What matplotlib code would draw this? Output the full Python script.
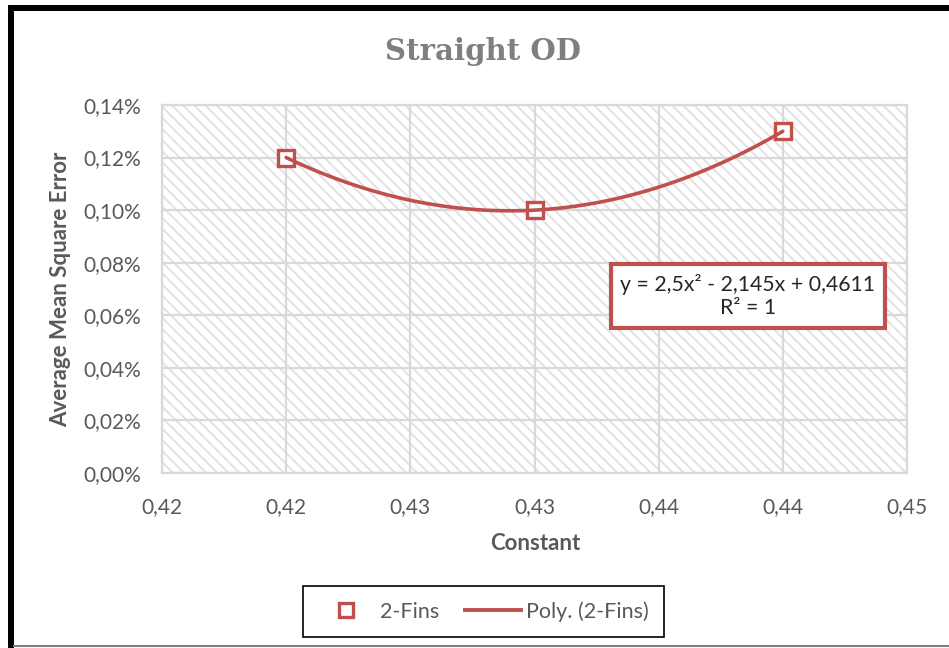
import numpy as np
import matplotlib
matplotlib.use("Agg")
import matplotlib.pyplot as plt
from matplotlib.lines import Line2D
from matplotlib.patches import Rectangle
from matplotlib.ticker import FuncFormatter

# Data
constant = [0.42, 0.43, 0.44]
mse_2fins = [0.0012, 0.0010, 0.0013]
x_tick_values = [0.415, 0.42, 0.425, 0.43, 0.435, 0.44, 0.445]
x_tick_labels = ["0,42", "0,42", "0,43", "0,43", "0,44", "0,44", "0,45"]
y_tick_values = [0.0, 0.0002, 0.0004, 0.0006, 0.0008, 0.0010, 0.0012, 0.0014]

RED = "#c0504d"
GRID = "#d9d9d9"
HATCH = "#e0e0e0"
TXT = "#595959"
FONT = "Lato"

plt.rcParams["hatch.linewidth"] = 1.3
plt.rcParams["hatch.color"] = HATCH

W, H = 949, 648
fig = plt.figure(figsize=(W / 100, H / 100), dpi=100)
fig.patch.set_facecolor("white")

# plot area in pixel coordinates
x0, x1, y0, y1 = 162, 907, 105, 473
ax = fig.add_axes([x0 / W, 1 - y1 / H, (x1 - x0) / W, (y1 - y0) / H])
ax.set_facecolor("white")
ax.add_patch(Rectangle((0, 0), 1, 1, transform=ax.transAxes, facecolor="white",
                       edgecolor=HATCH, linewidth=0, hatch="\\\\\\", zorder=0.5))

ax.set_xlim(x_tick_values[0], x_tick_values[-1])
ax.set_ylim(y_tick_values[0], y_tick_values[-1])
ax.set_xticks(x_tick_values)
ax.set_xticklabels(x_tick_labels)
ax.set_yticks(y_tick_values)
ax.yaxis.set_major_formatter(FuncFormatter(lambda v, p: f"{v * 100:.2f}%".replace(".", ",")))
ax.grid(True, color=GRID, linewidth=1.6, zorder=1)
ax.set_axisbelow(True)
for s in ax.spines.values():
    s.set_color(GRID)
    s.set_linewidth(1.6)
ax.tick_params(length=0, labelsize=15, labelcolor=TXT)
ax.tick_params(axis="y", pad=15)
ax.tick_params(axis="x", pad=17)
for lab in ax.get_xticklabels() + ax.get_yticklabels():
    lab.set_fontfamily(FONT)

# polynomial trend line (order 2)
coef = np.polyfit(constant, mse_2fins, 2)
xs = np.linspace(min(constant), max(constant), 200)
ax.plot(xs, np.polyval(coef, xs), color=RED, linewidth=2.6, zorder=4,
        solid_capstyle="round")
ax.plot(constant, mse_2fins, linestyle="none", marker="s", markersize=12,
        markerfacecolor="white", markeredgecolor=RED, markeredgewidth=2.4, zorder=3)

# trend equation box
eq = f"y = {coef[0]:.1f}x\u00b2 - {abs(coef[1]):.3f}x + {coef[2]:.4f}".replace(".", ",")
fig.text(748 / W, 1 - 296 / H, eq + "\nR\u00b2 = 1", ha="center", va="center",
         fontsize=15.3, fontfamily=FONT, color="#262626", linespacing=1.2,
         bbox=dict(boxstyle="square,pad=0.45", facecolor="white", edgecolor=RED,
                   linewidth=3))

# titles
fig.text(483 / W, 1 - 52 / H, "Straight OD", ha="center", va="center",
         fontsize=21, fontweight="bold", fontfamily="DejaVu Serif", color="#7f7f7f")
fig.text(535 / W, 1 - 543 / H, "Constant", ha="center", va="center",
         fontsize=16, fontweight="bold", fontfamily=FONT, color=TXT)
fig.text(61 / W, 1 - 289 / H, "Average Mean Square Error", ha="center", va="center",
         rotation=90, fontsize=16, fontweight="bold", fontfamily=FONT, color=TXT)

# legend
handles = [
    Line2D([], [], linestyle="none", marker="s", markersize=10, markerfacecolor="white",
           markeredgecolor=RED, markeredgewidth=2.4),
    Line2D([], [], color=RED, linewidth=2.8),
]
leg = fig.legend(handles, ["2-Fins", "Poly. (2-Fins)"], loc="center",
                 bbox_to_anchor=(483.5 / W, 1 - 611.5 / H), ncol=2, frameon=True,
                 fancybox=False, edgecolor="black", framealpha=1,
                 prop={"family": FONT, "size": 15.5}, handlelength=2.6,
                 columnspacing=1.2, handletextpad=0.25, borderpad=0.7,
                 borderaxespad=0)
leg.get_frame().set_linewidth(1.2)
for t in leg.get_texts():
    t.set_color(TXT)

# outer chart border
fig.add_artist(Line2D([11 / W, 11 / W], [0, 1 - 5 / H], color="black", linewidth=4.3,
                      transform=fig.transFigure, solid_capstyle="butt"))
fig.add_artist(Line2D([8 / W, 1], [1 - 8 / H, 1 - 8 / H], color="black", linewidth=4.3,
                      transform=fig.transFigure, solid_capstyle="butt"))
fig.add_artist(Line2D([14 / W, 1], [1 - 646 / H, 1 - 646 / H], color="#7f7f7f",
                      linewidth=1.5, transform=fig.transFigure))

fig.savefig("out.png", dpi=100)
